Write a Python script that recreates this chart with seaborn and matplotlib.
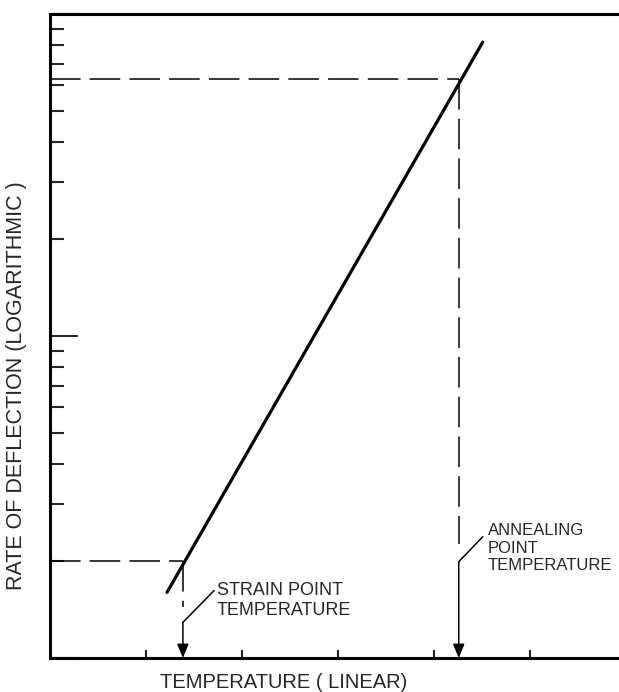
import numpy as np
import pandas as pd
import matplotlib
matplotlib.use("Agg")
import matplotlib.pyplot as plt
import seaborn as sns

# values (x linear, y logarithmic)
line_temp = [1.22, 4.51]
line_rate = [1.6, 81.8]

strain_temp = 1.385
strain_rate = 2.0
anneal_temp = 4.26
anneal_rate = 62.8

x_ticks = [1, 2, 3, 4, 5]
x_limits = [0, 5.93]
y_limits = [1, 100]

x_label = "TEMPERATURE ( LINEAR)"
y_label = "RATE OF DEFLECTION (LOGARITHMIC )"
strain_label = "STRAIN POINT\nTEMPERATURE"
anneal_label = "ANNEALING\nPOINT\nTEMPERATURE"

sns.set_style("ticks")
plt.rcParams['font.family'] = ['Liberation Sans', 'DejaVu Sans']

fig = plt.figure(figsize=(6.19, 6.92), dpi=100)
ax = fig.add_axes([50 / 619, 34 / 692, 569 / 619, 644 / 692])

df = pd.DataFrame({"temp": line_temp, "rate": line_rate})
sns.lineplot(data=df, x="temp", y="rate", ax=ax, color="black", linewidth=2.3)

ax.set_yscale("log")
ax.set_xlim(x_limits)
ax.set_ylim(y_limits)

# dashed guide lines
dash = dict(color="black", linewidth=1.1, linestyle=(0, (20, 6)))
ax.plot([x_limits[0], strain_temp], [strain_rate, strain_rate], **dash)
ax.plot([strain_temp, strain_temp], [strain_rate, 1.44], **dash)
ax.plot([x_limits[0], anneal_temp], [anneal_rate, anneal_rate], **dash)
ax.plot([anneal_temp, anneal_temp], [anneal_rate, 2.26], **dash)

# leaders and arrows
leader = dict(color="black", linewidth=1.1)
ax.plot([1.71, strain_temp], [1.62, 1.29], **leader)
ax.plot([4.51, anneal_temp], [2.38, 1.99], **leader)
arrow = dict(arrowstyle="-|>,head_length=0.6,head_width=0.25", mutation_scale=14,
             lw=1.1, color="black", shrinkA=0, shrinkB=0)
ax.annotate("", xy=(strain_temp, y_limits[0]), xytext=(strain_temp, 1.29), arrowprops=arrow)
ax.annotate("", xy=(anneal_temp, y_limits[0]), xytext=(anneal_temp, 1.99), arrowprops=arrow)

ax.text(1.74, 1.72, strain_label, ha="left", va="top", fontsize=13, linespacing=1.25)
ax.text(4.56, 2.62, anneal_label, ha="left", va="top", fontsize=12, linespacing=1.2)

# axes styling
for side in ["left", "bottom", "top"]:
    ax.spines[side].set_linewidth(2.2)
    ax.spines[side].set_color("black")
ax.spines["right"].set_visible(False)

ax.set_xticks(x_ticks)
ax.xaxis.set_minor_locator(matplotlib.ticker.NullLocator())
ax.tick_params(axis="x", which="major", direction="in", length=6, width=1.5,
               labelbottom=False, top=False)
ax.tick_params(axis="y", which="major", direction="in", length=20, width=1.5,
               labelleft=False, right=False)
ax.tick_params(axis="y", which="minor", direction="in", length=10, width=1.5,
               labelleft=False, right=False)
ax.set_xlabel("")
ax.set_ylabel("")

fig.text(284 / 619, 1 - 683 / 692, x_label, ha="center", va="center", fontsize=14.5)
fig.text(17 / 619, 1 - 386 / 692, y_label, ha="center", va="center",
         rotation=90, fontsize=15.5)

fig.savefig("out.png", dpi=100)
